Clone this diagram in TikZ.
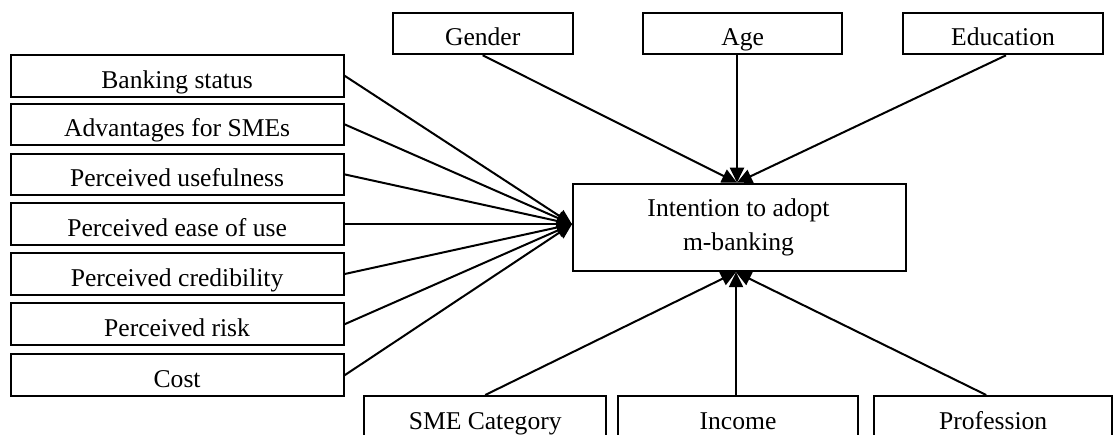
\documentclass[tikz,border=0pt]{standalone}
\usepackage{fontspec}
\setmainfont{Liberation Serif}
\usetikzlibrary{arrows.meta,calc}
\begin{document}
\begin{tikzpicture}[x=0.5pt,y=-0.5pt,
  box/.style={draw, line width=1pt, inner sep=0pt, anchor=north west, minimum height=20.8pt},
  lbox/.style={box, minimum width=166.6pt},
  txt/.style={inner sep=0pt, anchor=base, font=\fontsize{12.8}{14}\selectfont},
  arr/.style={line width=1pt, -{Triangle[length=7.5pt,width=7pt]}}]
\useasboundingbox (0,0) rectangle (1114,434);
% left boxes
\node[lbox] (b1) at (9.5,54) {};
\node[lbox] (b2) at (9.5,102.6) {};
\node[lbox] (b3) at (9.5,152.6) {};
\node[lbox] (b4) at (9.5,202.4) {};
\node[lbox] (b5) at (9.5,252.2) {};
\node[lbox] (b6) at (9.5,302.4) {};
\node[lbox] (b7) at (9.5,353.4) {};
\node[txt] (t1) at ($(b1.south)+(0,-9.5)$) {Banking status};
\node[txt] (t2) at ($(b2.south)+(0,-9.5)$) {Advantages for SMEs};
\node[txt] (t3) at ($(b3.south)+(0,-9.5)$) {Perceived usefulness};
\node[txt] (t4) at ($(b4.south)+(0,-9.5)$) {Perceived ease of use};
\node[txt] (t5) at ($(b5.south)+(0,-9.5)$) {Perceived credibility};
\node[txt] (t6) at ($(b6.south)+(0,-9.5)$) {Perceived risk};
\node[txt] (t7) at ($(b7.south)+(0,-9.5)$) {Cost};
% top boxes
\node[box, minimum width=90pt] (gen) at (391.7,11.7) {};
\node[box, minimum width=99.4pt] (age) at (642.3,11.7) {};
\node[box, minimum width=99.7pt] (edu) at (902.3,11.7) {};
\node[txt] (tg) at ($(gen.south)+(0,-9.5)$) {Gender};
\node[txt] (ta) at ($(age.south)+(0,-9.5)$) {Age};
\node[txt] (te) at ($(edu.south)+(0,-9.5)$) {Education};
% centre box
\node[box, minimum width=166.5pt, minimum height=43.7pt] (c) at (572,182.7) {};
\node[txt] (c1) at (738.5,216) {Intention to adopt};
\node[txt] (c2) at (738.5,250) {m-banking};
% bottom boxes
\node[box, minimum width=120.9pt] (sme) at (363.3,395) {};
\node[box, minimum width=120.3pt] (inc) at (616.7,395) {};
\node[box, minimum width=118.9pt] (pro) at (873.3,395) {};
\node[txt] (ts) at ($(sme.south)+(0,-9.5)$) {SME Category};
\node[txt] (ti) at ($(inc.south)+(0,-9.5)$) {Income};
\node[txt] (tp) at ($(pro.south)+(0,-9.5)$) {Profession};
% target points
\coordinate (cl) at (b4.east -| c.west);
\coordinate (ct) at ($(c.north)+(-2.5,0)$);
\coordinate (cb) at ($(c.south)+(-3.5,0)$);
% connectors
\foreach \b in {b1,b2,b3,b4,b5,b6,b7} \draw[arr] (\b.east) -- (cl);
\draw[arr] (gen.south) -- (ct);
\draw[arr] (age.south -| ct) -- (ct);
\draw[arr] ($(edu.south)+(3,0)$) -- (ct);
\draw[arr] (sme.north) -- (cb);
\draw[arr] (inc.north -| cb) -- (cb);
\draw[arr] ($(pro.north)+(-7,0)$) -- (cb);
\end{tikzpicture}
\end{document}
